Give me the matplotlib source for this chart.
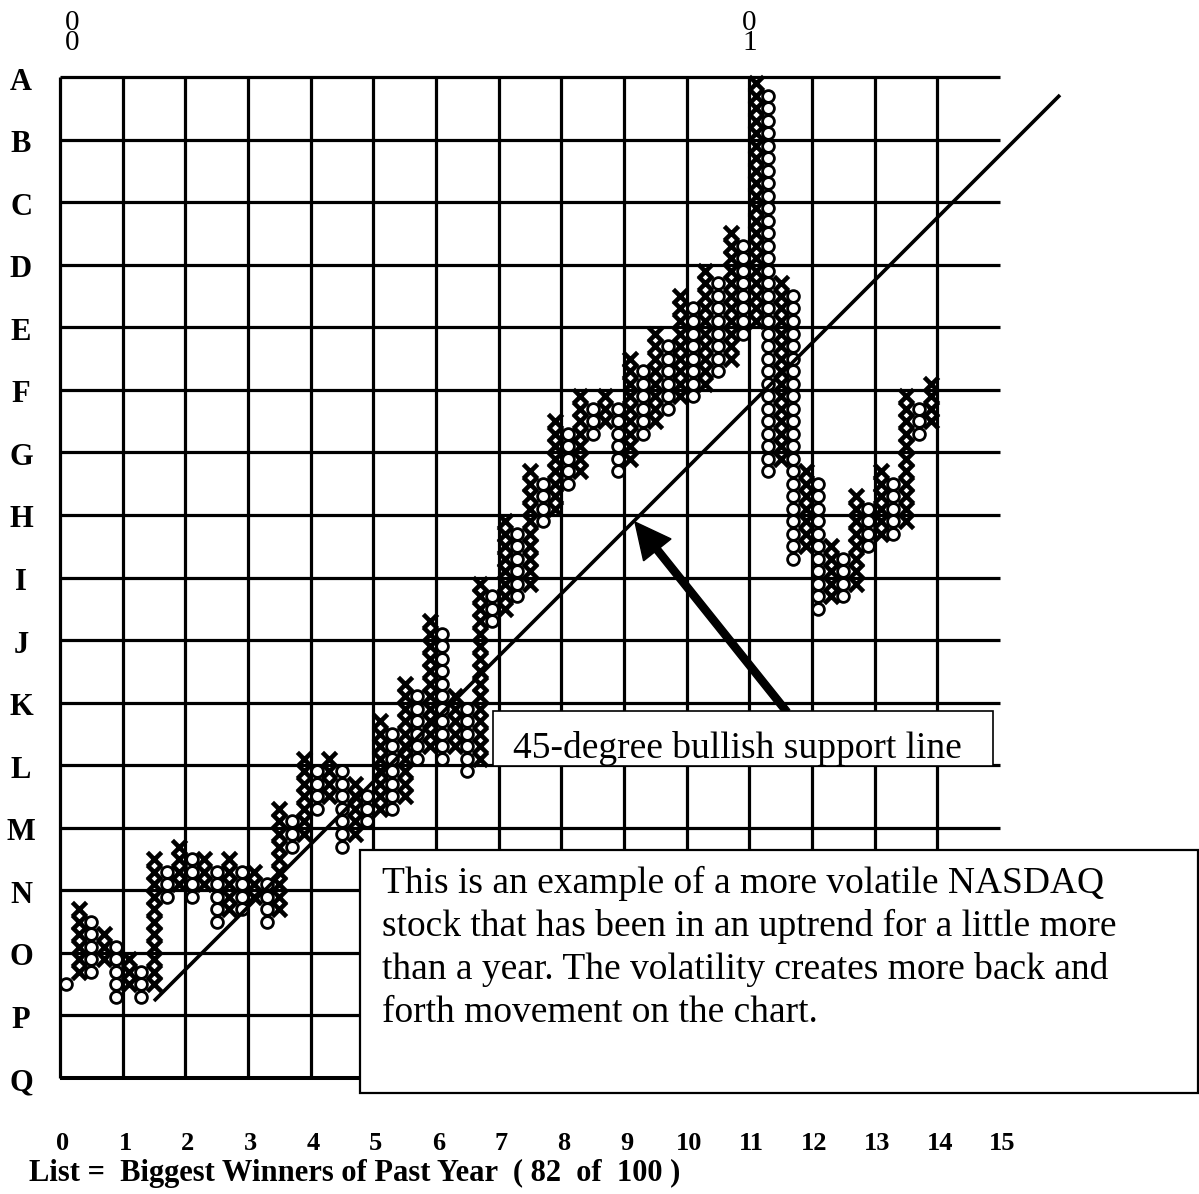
import matplotlib
matplotlib.use("Agg")
import matplotlib.pyplot as plt
from matplotlib.patches import Rectangle

# ---------------- data ----------------
row_labels = list("ABCDEFGHIJKLMNOPQ")          # top (A) to bottom (Q)
col_labels = [str(i) for i in range(16)]
year_marks = ["0\n0", "0\n1"]

# point & figure columns (box units, 5 boxes per grid cell), alternating O / X
col_types = ["O", "X"] * 35
col_low = [7, 8, 8, 9, 6, 7, 6, 7, 14, 15,
           14, 15, 12, 13, 13, 14, 12, 13, 18, 19,
           21, 22, 18, 19, 20, 21, 21, 22, 25, 26,
           25, 26, 24, 25, 36, 37, 38, 39, 44, 45,
           47, 48, 51, 52, 48, 49, 51, 52, 53, 54,
           54, 55, 56, 57, 59, 60, 48, 49, 41, 42,
           37, 38, 38, 39, 42, 43, 43, 44, 51, 52]
col_high = [7, 13, 12, 11, 10, 9, 8, 17, 16, 18,
            17, 17, 16, 17, 16, 16, 15, 21, 20, 25,
            24, 25, 24, 23, 22, 28, 27, 31, 30, 36,
            35, 30, 29, 39, 38, 44, 43, 48, 47, 52,
            51, 54, 53, 54, 53, 57, 56, 59, 58, 62,
            61, 64, 63, 67, 66, 79, 78, 63, 62, 48,
            47, 42, 41, 46, 45, 48, 47, 54, 53, 55]

title_text = "List =  Biggest Winners of Past Year  ( 82  of  100 )"
label_support = "45-degree bullish support line"
note_lines = ["This is an example of a more volatile NASDAQ",
              "stock that has been in an uptrend for a little more",
              "than a year. The volatility creates more back and",
              "forth movement on the chart."]

# ---------------- figure ----------------
W, H = 1199, 1194
SERIF = "Liberation Serif"
fig = plt.figure(figsize=(W / 100, H / 100), dpi=100)
fig.patch.set_facecolor("white")
ax = fig.add_axes([60 / W, 1 - 1078 / H, 940 / W, 1001 / H])
ax.set_xlim(0, 15)
ax.set_ylim(0, 16)
ax.axis("off")


def P(px, py):
    """pixel position -> grid (data) units"""
    return ((px - 60) * 15 / 940, (1078 - py) * 16 / 1001)


# grid
for i in range(15):
    ax.plot([i, i], [0, 16], color="black", lw=2.3, solid_capstyle="butt",
            zorder=1, clip_on=False)
for r in range(17):
    ax.plot([0, 15], [r, r], color="black", lw=2.9 if r == 0 else 2.3,
            solid_capstyle="butt", zorder=1, clip_on=False)

# X and O boxes
xx, xy, ox, oy = [], [], [], []
for k, (t, lo, hi) in enumerate(zip(col_types, col_low, col_high)):
    for j in range(lo, hi + 1):
        if t == "X":
            xx.append((k + 0.5) / 5)
            xy.append((j + 0.5) / 5)
        else:
            ox.append((k + 0.5) / 5)
            oy.append((j + 0.5) / 5)
ax.scatter(xx, xy, s=105, marker="x", c="black", linewidths=3.3, zorder=3,
           clip_on=False)
ax.scatter(ox, oy, s=72, marker="o", facecolors="white", edgecolors="black",
           linewidths=2.0, zorder=3.5, clip_on=False)

# 45 degree trend line
x0, y0 = P(154, 1001)
x1, y1 = P(1060, 95)
ax.plot([x0, x1], [y0, y1], color="black", lw=2.6, solid_capstyle="butt",
        zorder=4, clip_on=False)

# arrow
tx, ty = P(787, 712)
hx, hy = P(635, 522)
ax.arrow(tx, ty, hx - tx, hy - ty, width=0.115, head_width=0.56,
         head_length=0.57, length_includes_head=True, fc="black", ec="black",
         zorder=5, clip_on=False)

# box 1
bx0, by0 = P(493, 766)
bx1, by1 = P(993, 711)
ax.add_patch(Rectangle((bx0, by0), bx1 - bx0, by1 - by0, fc="white",
                       ec="black", lw=1.2, zorder=6, clip_on=False))
t1 = ax.text(*P(513, 758), label_support, fontsize=27, family=SERIF,
             ha="left", va="baseline", zorder=7)
cx0, cy0 = P(493, 756.5)
clip = Rectangle((cx0, cy0), bx1 - cx0, by1 - cy0, transform=ax.transData)
t1.set_clip_path(clip)

# box 2
nx0, ny0 = P(360, 1092.5)
nx1, ny1 = P(1198, 850)
ax.add_patch(Rectangle((nx0, ny0), nx1 - nx0, ny1 - ny0, fc="white",
                       ec="black", lw=1.6, zorder=6, clip_on=False))
for i, line in enumerate(note_lines):
    ax.text(*P(382, 893 + 43 * i), line, fontsize=27, family=SERIF,
            ha="left", va="baseline", zorder=7, clip_on=False)

# row labels
for i, lab in enumerate(row_labels):
    ax.text(P(21, 0)[0], 16 - i - P(0, 1078 - 5)[1], lab, fontsize=22,
            family=SERIF, weight="bold", ha="center", va="center", zorder=7,
            clip_on=False)

# column labels
for i, lab in enumerate(col_labels):
    ax.text(i + 0.04, P(0, 1150)[1], lab, fontsize=19, family=SERIF,
            weight="bold", ha="center", va="baseline", zorder=7,
            clip_on=False)

ax.text(*P(29, 1181), title_text, fontsize=22, family=SERIF, weight="bold",
        ha="left", va="baseline", zorder=7, clip_on=False)

# year markers (stacked digits)
for px, mark in zip([72.5, 749.5], year_marks):
    ax.text(*P(px, 10), mark, fontsize=21, family=SERIF, ha="center",
            va="top", linespacing=0.72, multialignment="center", zorder=7,
            clip_on=False)

fig.savefig("out.png", dpi=100, facecolor="white")
